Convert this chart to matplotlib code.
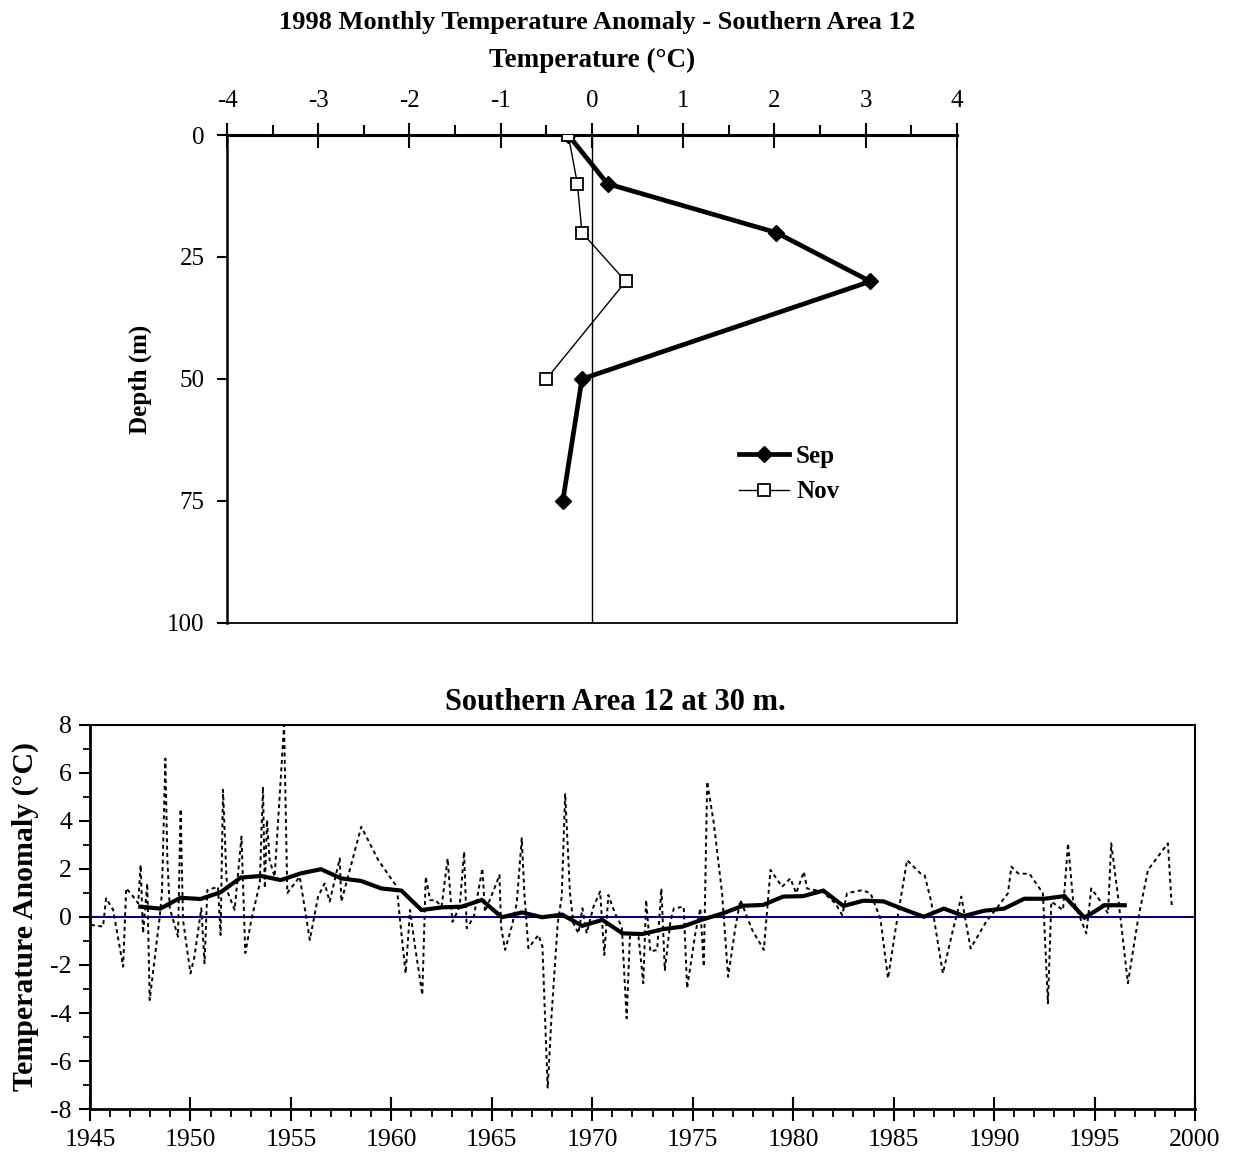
import matplotlib
matplotlib.use("Agg")
import matplotlib.pyplot as plt
from matplotlib.ticker import MultipleLocator

plt.rcParams["font.family"] = ["Liberation Serif", "DejaVu Serif"]
plt.rcParams["axes.unicode_minus"] = False

# 1998 profile, depth in metres
sep_depth = [0, 10, 20, 30, 50, 75]
sep_temp = [-0.26, 0.17, 2.02, 3.05, -0.11, -0.32]
nov_depth = [0, 10, 20, 30, 50]
nov_temp = [-0.26, -0.16, -0.11, 0.37, -0.50]

# monthly anomalies at 30 m
month_year = [1945.05, 1945.65, 1945.80, 1946.15, 1946.65, 1946.80, 1947.15, 1947.40, 1947.52, 1947.64,
              1947.85, 1947.97, 1948.47, 1948.58, 1948.75, 1948.85, 1948.97, 1949.38, 1949.51, 1949.63,
              1950.00, 1950.20, 1950.54, 1950.70, 1950.84, 1951.37, 1951.50, 1951.62, 1951.79, 1951.87,
              1952.20, 1952.54, 1952.73, 1953.03, 1953.45, 1953.61, 1953.70, 1953.81, 1953.94, 1954.19,
              1954.66, 1954.82, 1955.44, 1955.94, 1956.35, 1956.68, 1956.93, 1957.43, 1957.51, 1958.50,
              1959.35, 1960.27, 1960.43, 1960.71, 1960.93, 1961.18, 1961.54, 1961.71, 1961.93, 1962.20,
              1962.50, 1962.80, 1963.04, 1963.40, 1963.62, 1963.75, 1964.10, 1964.53, 1964.66, 1965.16,
              1965.38, 1965.46, 1965.66, 1965.99, 1966.24, 1966.49, 1966.62, 1966.82, 1967.32, 1967.52,
              1967.78, 1967.98, 1968.28, 1968.48, 1968.65, 1968.89, 1969.06, 1969.31, 1969.51, 1969.72,
              1970.06, 1970.39, 1970.60, 1970.80, 1971.13, 1971.47, 1971.71, 1971.88, 1972.30, 1972.54,
              1972.68, 1972.89, 1973.23, 1973.44, 1973.61, 1973.89, 1974.06, 1974.55, 1974.72, 1975.13,
              1975.38, 1975.55, 1975.72, 1976.05, 1976.46, 1976.76, 1977.13, 1977.37, 1977.96, 1978.54,
              1978.87, 1979.45, 1979.86, 1980.15, 1980.53, 1980.69, 1981.44, 1982.10, 1982.44, 1982.68,
              1983.43, 1983.85, 1984.34, 1984.72, 1985.09, 1985.67, 1986.33, 1986.54, 1986.87, 1987.45,
              1987.95, 1988.37, 1988.83, 1989.61, 1990.19, 1990.69, 1990.86, 1991.19, 1991.77, 1992.43,
              1992.68, 1992.85, 1993.43, 1993.68, 1993.93, 1994.59, 1994.84, 1995.25, 1995.67, 1995.83,
              1996.17, 1996.66, 1997.16, 1997.66, 1998.15, 1998.65, 1998.85]
month_anom = [-0.33, -0.40, 0.78, 0.30, -2.07, 1.20, 0.85, 0.57, 2.17, -0.68,
              1.40, -3.46, 0.00, 1.00, 6.60, 2.37, 0.36, -0.82, 4.50, -0.13,
              -2.35, -1.65, 0.36, -1.93, 1.12, 1.26, -0.75, 5.30, 1.68, 1.00,
              0.30, 3.35, -1.50, -0.12, 1.40, 5.43, 1.20, 4.04, 2.37, 1.68,
              8.00, 1.00, 1.68, -0.96, 0.85, 1.40, 0.64, 2.44, 0.64, 3.76,
              2.37, 1.26, -0.12, -2.35, 0.29, -1.24, -3.25, 1.68, 0.70, 0.70,
              0.43, 2.44, -0.20, 0.43, 2.72, -0.47, 0.00, 2.03, 0.22, 1.26,
              1.75, -0.40, -1.37, -0.40, 0.57, 3.28, 0.99, -1.30, -0.75, -1.24,
              -7.14, -4.00, -0.26, 0.85, 5.15, 0.99, -0.26, -0.68, 0.36, -0.68,
              0.43, 1.06, -1.58, 0.92, 0.15, -0.40, -4.22, -0.68, -0.82, -2.76,
              0.71, -1.44, -1.37, 1.19, -2.21, -0.19, 0.36, 0.43, -2.97, -0.68,
              0.36, -2.07, 5.64, 3.90, 0.99, -2.49, -0.40, 0.71, -0.54, -1.37,
              1.96, 1.26, 1.61, 0.99, 1.89, 1.19, 1.06, 0.57, 0.08, 0.99,
              1.12, 0.99, -0.06, -2.56, -0.54, 2.37, 1.82, 1.75, 0.64, -2.35,
              -0.54, 0.85, -1.31, -0.19, 0.43, 0.99, 2.10, 1.82, 1.79, 0.99,
              -3.60, 0.64, 0.29, 3.07, 0.71, -0.68, 1.19, 0.71, 0.15, 3.07,
              0.85, -2.76, -0.12, 1.96, 2.51, 3.07, 0.36]

# smoothed annual series, plotted mid-year
smooth_year = [y + 0.5 for y in range(1947, 1997)]
smooth_anom = [0.43, 0.35, 0.80, 0.75, 1.03, 1.64, 1.71, 1.54, 1.82, 1.99,
               1.61, 1.50, 1.19, 1.10, 0.29, 0.40, 0.43, 0.71, -0.01, 0.19,
               -0.01, 0.10, -0.37, -0.12, -0.68, -0.71, -0.51, -0.40, -0.10, 0.15,
               0.47, 0.50, 0.85, 0.87, 1.10, 0.46, 0.68, 0.65, 0.32, 0.01,
               0.35, 0.04, 0.26, 0.35, 0.76, 0.76, 0.87, -0.03, 0.49, 0.49]

fig = plt.figure(figsize=(12.36, 11.64), dpi=100)

# ---- depth profile ----
ax1 = fig.add_axes([0.18366, 0.46478, 0.5906, 0.41924])
ax1.plot(sep_temp, sep_depth, color="black", lw=3.4, marker="D", ms=8,
         mfc="black", mec="black", label="Sep", zorder=3)
ax1.plot(nov_temp, nov_depth, color="black", lw=1.0, marker="s", ms=8,
         mfc="white", mec="black", mew=1.3, label="Nov", zorder=4)
ax1.axvline(0, color="black", lw=1.0, zorder=1)
ax1.set_xlim(-4, 4)
ax1.set_ylim(100, 0)
ax1.xaxis.set_ticks_position("top")
ax1.xaxis.set_major_locator(MultipleLocator(1))
ax1.xaxis.set_minor_locator(MultipleLocator(0.5))
ax1.yaxis.set_major_locator(MultipleLocator(25))
ax1.tick_params(axis="x", which="major", direction="inout", length=18, width=1.5,
                labelsize=18, pad=7.5)
ax1.tick_params(axis="x", which="minor", direction="out", length=7, width=1.5)
ax1.tick_params(axis="y", which="major", direction="out", length=7, width=1.5,
                labelsize=18, pad=9)
ax1.spines["top"].set_linewidth(2.2)
ax1.spines["left"].set_linewidth(1.8)
ax1.spines["right"].set_linewidth(1.3)
ax1.spines["bottom"].set_linewidth(1.3)
ax1.set_ylabel("Depth (m)", fontsize=18, fontweight="bold", labelpad=11)
fig.text(0.479, 0.948, "Temperature (\u00b0C)", ha="center", va="center",
         fontsize=19.5, fontweight="bold")
fig.text(0.483, 0.981, "1998 Monthly Temperature Anomaly - Southern Area 12",
         ha="center", va="center", fontsize=19, fontweight="bold")
leg = ax1.legend(loc="center left", bbox_to_anchor=(0.67, 0.305), frameon=False,
                 prop={"weight": "bold", "size": 18}, handlelength=2.0,
                 handletextpad=0.3, labelspacing=0.5)

# ---- 30 m time series ----
ax2 = fig.add_axes([0.07282, 0.04725, 0.89401, 0.3299])
ax2.plot(month_year, month_anom, color="black", lw=1.4, linestyle=(0, (2.0, 1.8)))
ax2.plot(smooth_year, smooth_anom, color="black", lw=3.0, solid_joinstyle="miter")
ax2.axhline(0, color="#000080", lw=1.5, zorder=1)
ax2.set_xlim(1945, 2000)
ax2.set_ylim(-8, 8)
ax2.xaxis.set_major_locator(MultipleLocator(5))
ax2.xaxis.set_minor_locator(MultipleLocator(1))
ax2.yaxis.set_major_locator(MultipleLocator(2))
ax2.yaxis.set_minor_locator(MultipleLocator(1))
ax2.tick_params(axis="x", which="major", direction="inout", length=17, width=1.5,
                labelsize=18.5, pad=6)
ax2.tick_params(axis="x", which="minor", direction="out", length=6, width=1.3)
ax2.tick_params(axis="y", which="major", direction="out", length=8, width=1.5,
                labelsize=18.5, pad=5)
ax2.tick_params(axis="y", which="minor", direction="out", length=5, width=1.3)
for side in ["top", "right"]:
    ax2.spines[side].set_linewidth(1.5)
for side in ["left", "bottom"]:
    ax2.spines[side].set_linewidth(2.0)
ax2.set_ylabel("Temperature Anomaly (\u00b0C)", fontsize=21.5, fontweight="bold", labelpad=8)
fig.text(0.4976, 0.3965, "Southern Area 12 at 30 m.", ha="center", va="center",
         fontsize=22, fontweight="bold")

fig.savefig("out.png", dpi=100)
